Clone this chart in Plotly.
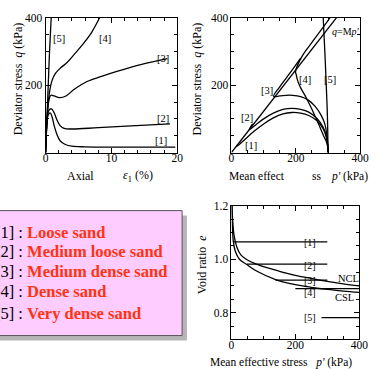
import plotly.graph_objects as go

W, H = 376, 369
FONT = "Liberation Serif"

# ---- top-left: q vs axial strain ----
strain1 = [0, 0.15, 0.4, 0.7, 1.0, 1.3, 1.7, 2.2, 3.0, 4.0, 6, 10, 15, 19.7]
dq1 = [0, 70, 112, 118, 105, 80, 55, 35, 24, 19, 17, 16, 16, 16]
strain2 = [0, 0.2, 0.5, 0.9, 1.3, 1.7, 2.2, 2.8, 4, 8, 13, 18.9]
dq2 = [0, 90, 125, 130, 118, 98, 80, 72, 70, 74, 79, 85]
strain3 = [0, 0.2, 0.5, 0.8, 1.3, 2.1, 3.1, 4.3, 6.3, 8.5, 10.7, 14.6, 18.5]
dq3 = [0, 100, 155, 170, 168, 163, 168, 187, 211, 226, 240, 262, 279]
strain4 = [0, 0.3, 0.6, 1.0, 1.5, 2.2, 3.3, 4.5, 5.8, 7.0, 8.2]
dq4 = [0, 120, 180, 215, 235, 250, 268, 295, 325, 357, 400]
strain5 = [0, 0.2, 0.4, 0.6, 0.85]
dq5 = [0, 100, 200, 300, 400]

# ---- top-right: stress paths ----
mline_p = [0, 330]
mline_q = [0, 405]
sp1 = [300, 299, 295, 285, 265, 240, 215, 188, 160, 130, 100, 70, 45, 25, 14]
sq1 = [0, 20, 45, 70, 95, 110, 117, 119, 115, 103, 85, 63, 42, 25, 17]
sp2 = [300, 299, 295, 285, 265, 240, 215, 188, 160, 130, 100, 75, 55, 60, 66]
sq2 = [0, 20, 47, 75, 102, 120, 128, 131, 128, 117, 100, 82, 68, 77, 85]
sp3 = [300, 299, 296, 290, 278, 260, 240, 215, 190, 170, 150, 131, 150, 170, 190, 215]
sq3 = [0, 25, 55, 85, 112, 137, 155, 166, 170, 170, 168, 167, 195, 221, 247, 280]
sp4 = [300, 299, 296, 286, 272, 257, 242, 227, 215, 206, 201, 199, 220, 250, 280, 306]
sq4 = [0, 15, 30, 50, 82, 114, 144, 172, 192, 212, 232, 240, 287, 327, 366, 400]
sp5 = [300, 299, 297, 294, 291, 288, 285]
sq5 = [0, 70, 140, 210, 280, 340, 400]

# ---- bottom-right: void ratio ----
ncl_p = [1.5, 3, 8, 17, 30, 50, 78, 100, 150, 200, 250, 300, 350, 400]
ncl_e = [1.2, 1.16, 1.09, 1.045, 1.015, 0.997, 0.982, 0.972, 0.955, 0.94, 0.928, 0.917, 0.908, 0.9]
csl_p = [1.5, 3, 6, 12, 25, 48, 80, 138, 200, 250, 300, 350, 400]
csl_e = [1.2, 1.12, 1.065, 1.03, 1.0, 0.98, 0.955, 0.924, 0.905, 0.895, 0.887, 0.881, 0.876]
ud_labels = ["[1]", "[2]", "[3]", "[4]", "[5]"]
ud_e = [1.065, 0.982, 0.922, 0.89, 0.782]
ud_pmin = [6, 48, 138, 200, 282]
ud_pmax = [300, 300, 300, 400, 400]
ud_label_e = [1.063, 0.978, 0.922, 0.875, 0.782]

legend_ids = ["[1] : ", "[2] : ", "[3] : ", "[4] : ", "[5] : "]
legend_names = ["Loose sand", "Medium loose sand", "Medium dense sand",
                "Dense sand", "Very dense sand"]

fig = go.Figure()
LW = 1.3
blk = dict(color="black", width=LW)

for xs, ys in [(strain1, dq1), (strain2, dq2), (strain3, dq3), (strain4, dq4), (strain5, dq5)]:
    fig.add_trace(go.Scatter(x=xs, y=ys, mode="lines", line=blk, xaxis="x", yaxis="y",
                             line_shape="spline", showlegend=False))

fig.add_trace(go.Scatter(x=mline_p, y=mline_q, mode="lines", line=blk, xaxis="x2", yaxis="y2", showlegend=False))
for xs, ys in [(sp1, sq1), (sp2, sq2), (sp3, sq3), (sp4, sq4), (sp5, sq5)]:
    fig.add_trace(go.Scatter(x=xs, y=ys, mode="lines", line=blk, xaxis="x2", yaxis="y2",
                             line_shape="spline", showlegend=False))

fig.add_trace(go.Scatter(x=ncl_p, y=ncl_e, mode="lines", line=blk, xaxis="x3", yaxis="y3",
                         line_shape="spline", showlegend=False))
fig.add_trace(go.Scatter(x=csl_p, y=csl_e, mode="lines", line=blk, xaxis="x3", yaxis="y3",
                         line_shape="spline", showlegend=False))
for e, a, b in zip(ud_e, ud_pmin, ud_pmax):
    fig.add_trace(go.Scatter(x=[a, b], y=[e, e], mode="lines", line=blk, xaxis="x3", yaxis="y3",
                             showlegend=False))


def px2paper(x, y):
    return x / W, 1 - y / H


def ax(domain, rng, tickvals, ticktext, minor_dtick, standoff=0):
    return dict(domain=domain, range=rng, tickmode="array", tickvals=tickvals, ticktext=ticktext,
                ticks="inside", ticklen=5, tickcolor="black", showline=True, linecolor="black",
                linewidth=1, mirror="ticks", showgrid=False, zeroline=False,
                ticklabelstandoff=standoff,
                tickfont=dict(family=FONT, size=11.5, color="black"),
                minor=dict(tickmode="linear", tick0=0, dtick=minor_dtick, ticks="inside",
                           ticklen=3, tickcolor="black", showgrid=False))


ytop = [1 - 149 / H, 1 - 12 / H]
ybot = [1 - 339 / H, 1 - 203 / H]
fig.update_layout(
    width=W, height=H, margin=dict(l=0, r=0, t=0, b=0),
    paper_bgcolor="white", plot_bgcolor="white", showlegend=False,
    xaxis=ax([44 / W, 180 / W], [0, 20], [0, 10, 20], ["0", "10", "20"], 2, -5),
    yaxis=ax(ytop, [0, 400], [0, 200, 400], ["", "200", "400"], 50),
    xaxis2=ax([236 / W, 369 / W], [0, 400], [0, 200, 400], ["0", "200", "400"], 50, -5),
    yaxis2=ax(ytop, [0, 400], [0, 200, 400], ["", "200", "400"], 50),
    xaxis3=ax([236 / W, 368 / W], [0, 400], [0, 200, 400], ["0", "200", "400"], 50, -5),
    yaxis3=ax(ybot, [0.7, 1.2], [0.8, 1.0, 1.2], ["0.8", "1.0", "1.2"], 0.05),
)
fig.layout.xaxis.anchor = "y"
fig.layout.yaxis.anchor = "x"
fig.layout.xaxis2.anchor = "y2"
fig.layout.yaxis2.anchor = "x2"
fig.layout.xaxis3.anchor = "y3"
fig.layout.yaxis3.anchor = "x3"

ann = []


def text_at(x, y, t, size=12, angle=0, xanchor="center", color="black"):
    xp, yp = px2paper(x, y)
    ann.append(dict(x=xp, y=yp, xref="paper", yref="paper", text=t, showarrow=False,
                    xanchor=xanchor, yanchor="middle", textangle=angle,
                    font=dict(family=FONT, size=size, color=color)))


def data_text(x, y, t, xr, yr, size=11):
    ann.append(dict(x=x, y=y, xref=xr, yref=yr, text=t, showarrow=False,
                    xanchor="center", yanchor="middle",
                    font=dict(family=FONT, size=size, color="black")))


# axis titles
text_at(15, 74, "Deviator stress  <i>q</i> (kPa)", angle=-90)
text_at(200, 74, "Deviator stress  <i>q</i> (kPa)", angle=-90)
text_at(205, 263, "Void ratio  <i>e</i>", angle=-90)
text_at(80, 173, "Axial")
text_at(139, 173, "<i>ε</i><sub>1</sub> (%)")
text_at(262, 173, "Mean effect", size=11.5)
text_at(324, 173, "ss", size=11.5)
text_at(358, 173, "<i>p'</i> (kPa)", size=11.5)
text_at(287, 362, "Mean effective stress   <i>p'</i> (kPa)", size=11.5)

# panel labels
for x, y, t in [(2.1, 340, "[5]"), (9.0, 340, "[4]"), (17.8, 280, "[3]"), (17.9, 102, "[2]"), (17.6, 35, "[1]")]:
    data_text(x, y, t, "x", "y", size=10.5)
for x, y, t in [(62, 20, "[1]"), (48, 105, "[2]"), (110, 185, "[3]"), (228, 216, "[4]"), (305, 216, "[5]")]:
    data_text(x, y, t, "x2", "y2", size=10.5)
data_text(357, 359, "<i>q</i>=M<i>p'</i>", "x2", "y2", size=10)
for t, e in zip(ud_labels, ud_label_e):
    data_text(245, e, t, "x3", "y3", size=10)
data_text(366, 0.928, "NCL", "x3", "y3", size=10.5)
data_text(355, 0.857, "CSL", "x3", "y3", size=10.5)

# legend box
shapes = []
x0, y0 = px2paper(190, 340)
x1, y1 = px2paper(-10, 213)
shapes.append(dict(type="rect", xref="paper", yref="paper", x0=-0.05, x1=x0, y0=y0, y1=y1,
                   fillcolor="#b5b5b5", line=dict(width=0), layer="above"))
bx1, by0 = px2paper(185, 335)
_, by1 = px2paper(0, 208)
shapes.append(dict(type="rect", xref="paper", yref="paper", x0=-0.05, x1=bx1, y0=by0, y1=by1,
                   fillcolor="#ffccff", line=dict(color="#555555", width=1), layer="above"))

for i, (lid, nm, yy) in enumerate(zip(legend_ids, legend_names, [230, 250, 270, 290, 313])):
    text_at(-10, yy, lid + "<b><span style='color:#ff3311'>" + nm + "</span></b>", size=16.5,
            xanchor="left")

fig.update_layout(annotations=ann, shapes=shapes)
fig.write_html("out.html")
